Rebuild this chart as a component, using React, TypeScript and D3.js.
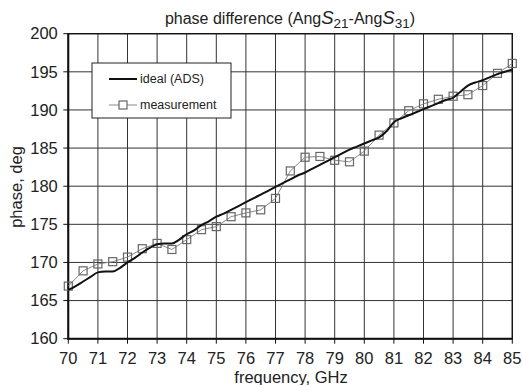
import React from 'react';
import * as d3 from 'd3';

// frequency ticks (GHz) and phase ticks (deg)
const xTicks = [70, 71, 72, 73, 74, 75, 76, 77, 78, 79, 80, 81, 82, 83, 84, 85];
const yTicks = [160, 165, 170, 175, 180, 185, 190, 195, 200];

// ideal (ADS) curve, sampled every 0.25 GHz
const idealFreq = [
  70, 70.25, 70.5, 70.75, 71, 71.25, 71.5, 71.75, 72, 72.25, 72.5, 72.75, 73, 73.25, 73.5, 73.75,
  74, 74.25, 74.5, 74.75, 75, 75.25, 75.5, 75.75, 76, 76.25, 76.5, 76.75, 77, 77.25, 77.5, 77.75,
  78, 78.25, 78.5, 78.75, 79, 79.25, 79.5, 79.75, 80, 80.25, 80.5, 80.75, 81, 81.25, 81.5, 81.75,
  82, 82.25, 82.5, 82.75, 83, 83.25, 83.5, 83.75, 84, 84.25, 84.5, 84.75, 85,
];
const idealPhase = [
  166.4, 166.9, 167.5, 168.1, 168.7, 168.8, 168.8, 169.3, 170.0, 170.6, 171.3, 171.9, 172.4, 172.5, 172.5, 173.0,
  173.7, 174.2, 174.9, 175.4, 176.0, 176.4, 176.9, 177.4, 177.9, 178.4, 178.9, 179.4, 179.9, 180.4, 180.9, 181.4,
  181.8, 182.3, 182.8, 183.3, 183.8, 184.3, 184.8, 185.2, 185.6, 186.0, 186.4, 187.2, 188.4, 188.9, 189.3, 189.7,
  190.1, 190.5, 190.9, 191.3, 191.6, 192.4, 193.2, 193.6, 193.9, 194.3, 194.7, 195.0, 195.3,
];

// measurement, every 0.5 GHz
const measFreq = [
  70, 70.5, 71, 71.5, 72, 72.5, 73, 73.5, 74, 74.5, 75, 75.5, 76, 76.5, 77, 77.5,
  78, 78.5, 79, 79.5, 80, 80.5, 81, 81.5, 82, 82.5, 83, 83.5, 84, 84.5, 85,
];
const measPhase = [
  166.9, 168.9, 169.8, 170.1, 170.7, 171.8, 172.5, 171.7, 173.0, 174.3, 174.7, 176.0, 176.5, 176.9, 178.4, 182.0,
  183.8, 183.9, 183.4, 183.2, 184.6, 186.7, 188.3, 189.9, 190.8, 191.4, 191.8, 192.0, 193.2, 194.8, 196.1,
];

const W = 523;
const H = 385;
const left = 68.3, right = 512.3, top = 33.7, bottom = 338.7;
const font = "'Liberation Sans', Arial, sans-serif";

export default function App() {
  const x = d3.scaleLinear().domain([70, 85]).range([left, right]);
  const y = d3.scaleLinear().domain([160, 200]).range([bottom, top]);

  const ideal = idealFreq.map((f, i) => [f, idealPhase[i]] as [number, number]);
  const meas = measFreq.map((f, i) => [f, measPhase[i]] as [number, number]);

  const line = d3.line<[number, number]>()
    .x(d => x(d[0]))
    .y(d => y(d[1]))
    .curve(d3.curveMonotoneX);
  const measLine = d3.line<[number, number]>()
    .x(d => x(d[0]))
    .y(d => y(d[1]));

  const sq = 8;

  return (
    <div style={{ position: 'absolute', left: 0, top: 0 }}>
      <svg width={W} height={H} style={{ display: 'block', background: '#fff', fontFamily: font }}>
        {/* grid */}
        {xTicks.map(t => (
          <line key={'gx' + t} x1={x(t)} x2={x(t)} y1={top} y2={bottom} stroke="#333" strokeWidth={1} />
        ))}
        {yTicks.map(t => (
          <line key={'gy' + t} x1={left} x2={right} y1={y(t)} y2={y(t)} stroke="#333" strokeWidth={1} />
        ))}

        {/* frame */}
        <rect x={left} y={top} width={right - left} height={bottom - top} fill="none" stroke="#111" strokeWidth={1.3} />
        <line x1={left} x2={left} y1={top} y2={bottom + 1} stroke="#111" strokeWidth={2} />
        <line x1={left - 1} x2={right} y1={bottom} y2={bottom} stroke="#111" strokeWidth={2} />

        {/* ticks + labels */}
        {xTicks.map(t => (
          <g key={'tx' + t}>
            <line x1={x(t)} x2={x(t)} y1={bottom} y2={bottom + 5} stroke="#111" strokeWidth={1} />
            <text x={x(t)} y={363.5} textAnchor="middle" fontSize={16.5} fill="#222">{t}</text>
          </g>
        ))}
        {yTicks.map(t => (
          <g key={'ty' + t}>
            <line x1={left - 5} x2={left} y1={y(t)} y2={y(t)} stroke="#111" strokeWidth={1} />
            <text x={left - 10.5} y={y(t)} dy="0.35em" textAnchor="end" fontSize={16.5} fill="#222">{t}</text>
          </g>
        ))}

        {/* measurement */}
        <path d={measLine(meas) || ''} fill="none" stroke="#888" strokeWidth={1} />
        {meas.map((d, i) => (
          <rect key={'m' + i} x={x(d[0]) - sq / 2} y={y(d[1]) - sq / 2} width={sq} height={sq}
            fill="none" stroke="#666" strokeWidth={1.2} />
        ))}

        {/* ideal */}
        <path d={line(ideal) || ''} fill="none" stroke="#111" strokeWidth={2} />

        {/* legend */}
        <rect x={92} y={63} width={139} height={55} fill="#fff" stroke="#222" strokeWidth={1} />
        <line x1={109} x2={137} y1={79} y2={79} stroke="#111" strokeWidth={2} />
        <text x={140} y={79} dy="0.35em" fontSize={12.5} fill="#222">ideal (ADS)</text>
        <line x1={109} x2={119} y1={105} y2={105} stroke="#888" strokeWidth={1} />
        <line x1={127} x2={137} y1={105} y2={105} stroke="#888" strokeWidth={1} />
        <rect x={123 - sq / 2} y={105 - sq / 2} width={sq} height={sq} fill="none" stroke="#666" strokeWidth={1.2} />
        <text x={140} y={105} dy="0.35em" fontSize={12.5} fill="#222">measurement</text>

        {/* titles */}
        <text x={290} y={24} textAnchor="middle" fontSize={16} fill="#222">
          phase difference (Ang<tspan fontStyle="italic" fontSize={18.5}>S</tspan>
          <tspan fontSize={13.5} dy={4}>21</tspan>
          <tspan dy={-4}>-Ang</tspan>
          <tspan fontStyle="italic" fontSize={18.5}>S</tspan>
          <tspan fontSize={13.5} dy={4}>31</tspan>
          <tspan dy={-4}>)</tspan>
        </text>
        <text x={291} y={382.5} textAnchor="middle" fontSize={16.5} fill="#222">frequency, GHz</text>
        <text transform={`translate(22,187) rotate(-90)`} textAnchor="middle" fontSize={16.5} fill="#222">phase, deg</text>
      </svg>
    </div>
  );
}
